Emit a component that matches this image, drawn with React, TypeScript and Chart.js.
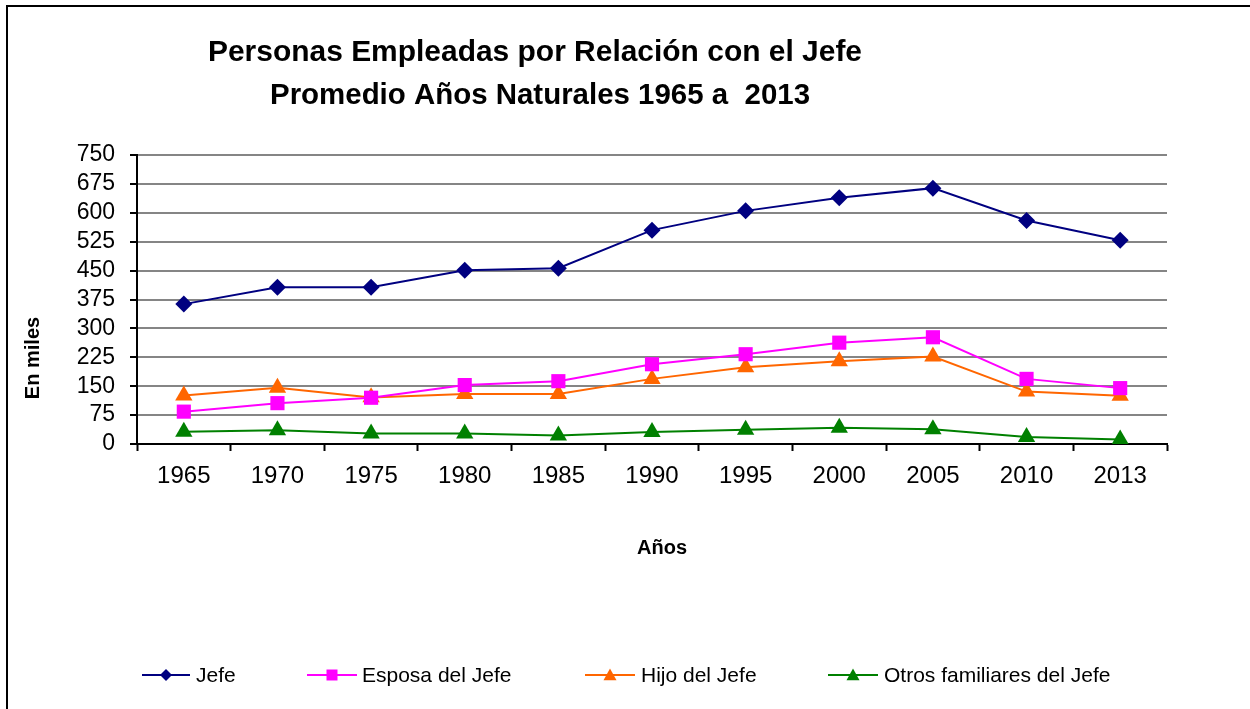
import React, { useEffect, useRef } from 'react';
import { Chart, registerables } from 'chart.js';

Chart.register(...registerables);

const years = ['1965', '1970', '1975', '1980', '1985', '1990', '1995', '2000', '2005', '2010', '2013'];
const jefe = [363, 407, 407, 451, 456, 555, 605, 639, 664, 580, 529];
const esposa = [84, 106, 120, 153, 163, 207, 233, 263, 277, 169, 145];
const hijo = [126, 146, 121, 130, 130, 169, 199, 215, 227, 136, 125];
const otros = [32, 36, 27, 27, 22, 31, 37, 42, 38, 18, 12];

const seriesNames = ['Jefe', 'Esposa del Jefe', 'Hijo del Jefe', 'Otros familiares del Jefe'];
const seriesColors = ['#000080', '#FF00FF', '#FF6600', '#008000'];
const seriesShapes = ['rectRot', 'rect', 'triangle', 'triangle'];
const titleLines = ['Personas Empleadas por Relación con el Jefe', 'Promedio Años Naturales 1965 a  2013'];
const xTitle = 'Años';
const yTitle = 'En miles';

const FONT = '"Liberation Sans", Arial, sans-serif';

function drawMarker(ctx: CanvasRenderingContext2D, shape: string, x: number, y: number, r: number, color: string) {
  ctx.save();
  ctx.fillStyle = color;
  ctx.beginPath();
  if (shape === 'rectRot') {
    ctx.moveTo(x, y - r);
    ctx.lineTo(x + r, y);
    ctx.lineTo(x, y + r);
    ctx.lineTo(x - r, y);
  } else if (shape === 'rect') {
    ctx.rect(x - r, y - r, 2 * r, 2 * r);
  } else {
    ctx.moveTo(x, y - r);
    ctx.lineTo(x + r, y + r * 0.8);
    ctx.lineTo(x - r, y + r * 0.8);
  }
  ctx.closePath();
  ctx.fill();
  ctx.restore();
}

const decorPlugin = {
  id: 'decor',
  afterDraw(chart: any) {
    const ctx: CanvasRenderingContext2D = chart.ctx;
    ctx.save();
    // outer border (left and top visible)
    ctx.strokeStyle = '#000';
    ctx.lineWidth = 2;
    ctx.beginPath();
    ctx.moveTo(7, 709);
    ctx.lineTo(7, 6);
    ctx.lineTo(1250, 6);
    ctx.stroke();

    // title
    ctx.fillStyle = '#000';
    ctx.textAlign = 'center';
    ctx.textBaseline = 'middle';
    ctx.font = `bold 30px ${FONT}`;
    ctx.fillText(titleLines[0], 535, 53, 654);
    ctx.fillText(titleLines[1], 540, 96, 540);

    // axis titles
    ctx.font = `bold 20px ${FONT}`;
    ctx.fillText(xTitle, 662, 548);
    ctx.save();
    ctx.translate(33, 358);
    ctx.rotate(-Math.PI / 2);
    ctx.fillText(yTitle, 0, 0);
    ctx.restore();

    // legend
    const items = [
      { x1: 142, x2: 190, tx: 196 },
      { x1: 307, x2: 357, tx: 362 },
      { x1: 585, x2: 635, tx: 641 },
      { x1: 828, x2: 878, tx: 884 },
    ];
    const ly = 675;
    ctx.font = `21px ${FONT}`;
    ctx.textAlign = 'left';
    items.forEach((it, i) => {
      ctx.strokeStyle = seriesColors[i];
      ctx.lineWidth = 2;
      ctx.beginPath();
      ctx.moveTo(it.x1, ly);
      ctx.lineTo(it.x2, ly);
      ctx.stroke();
      const cx = (it.x1 + it.x2) / 2;
      const r = seriesShapes[i] === 'rectRot' ? 6 : seriesShapes[i] === 'rect' ? 5.5 : 6.5;
      drawMarker(ctx, seriesShapes[i], cx, ly, r, seriesColors[i]);
      ctx.fillStyle = '#000';
      ctx.fillText(seriesNames[i], it.tx, ly + 1);
    });
    ctx.restore();
  },
};

export default function App() {
  const ref = useRef<HTMLCanvasElement | null>(null);

  useEffect(() => {
    if (!ref.current) return;
    const values = [jefe, esposa, hijo, otros];
    const radii = [8.5, 10, 10, 10];
    const chart = new Chart(ref.current, {
      type: 'line',
      data: {
        labels: years,
        datasets: values.map((v, i) => ({
          label: seriesNames[i],
          data: v,
          borderColor: seriesColors[i],
          backgroundColor: seriesColors[i],
          borderWidth: 2,
          pointStyle: seriesShapes[i] as any,
          pointRadius: radii[i],
          pointBorderWidth: 0,
          pointBackgroundColor: seriesColors[i],
          pointBorderColor: seriesColors[i],
          tension: 0,
        })),
      },
      options: {
        responsive: false,
        animation: false,
        events: [],
        layout: { padding: { top: 155, right: 83, left: 0, bottom: 0 } },
        plugins: {
          legend: { display: false },
          title: { display: false },
          tooltip: { enabled: false },
        },
        scales: {
          x: {
            type: 'category',
            offset: true,
            grid: {
              offset: true,
              drawOnChartArea: false,
              drawTicks: true,
              tickLength: 7,
              tickColor: '#000',
              tickWidth: 2,
            },
            border: { color: '#000', width: 2 },
            ticks: {
              color: '#000',
              font: { family: FONT, size: 24 },
              padding: 11,
              maxRotation: 0,
              autoSkip: false,
            },
            afterFit(scale: any) {
              scale.height = 709 - 444;
            },
          },
          y: {
            min: 0,
            max: 750,
            grid: {
              color: '#858585',
              lineWidth: 2,
              drawTicks: true,
              tickLength: 7,
              tickColor: '#000',
              tickWidth: 2,
            },
            border: { color: '#000', width: 2 },
            ticks: {
              stepSize: 75,
              autoSkip: false,
              color: '#000',
              font: { family: FONT, size: 23 },
              padding: 15,
            },
            afterFit(scale: any) {
              scale.width = 137;
            },
          },
        },
      },
      plugins: [decorPlugin],
    });
    return () => chart.destroy();
  }, []);

  return (
    <div style={{ position: 'fixed', left: 0, top: 0, width: 1250, height: 709, background: '#fff' }}>
      <canvas ref={ref} width={1250} height={709} style={{ display: 'block', width: 1250, height: 709 }} />
    </div>
  );
}
